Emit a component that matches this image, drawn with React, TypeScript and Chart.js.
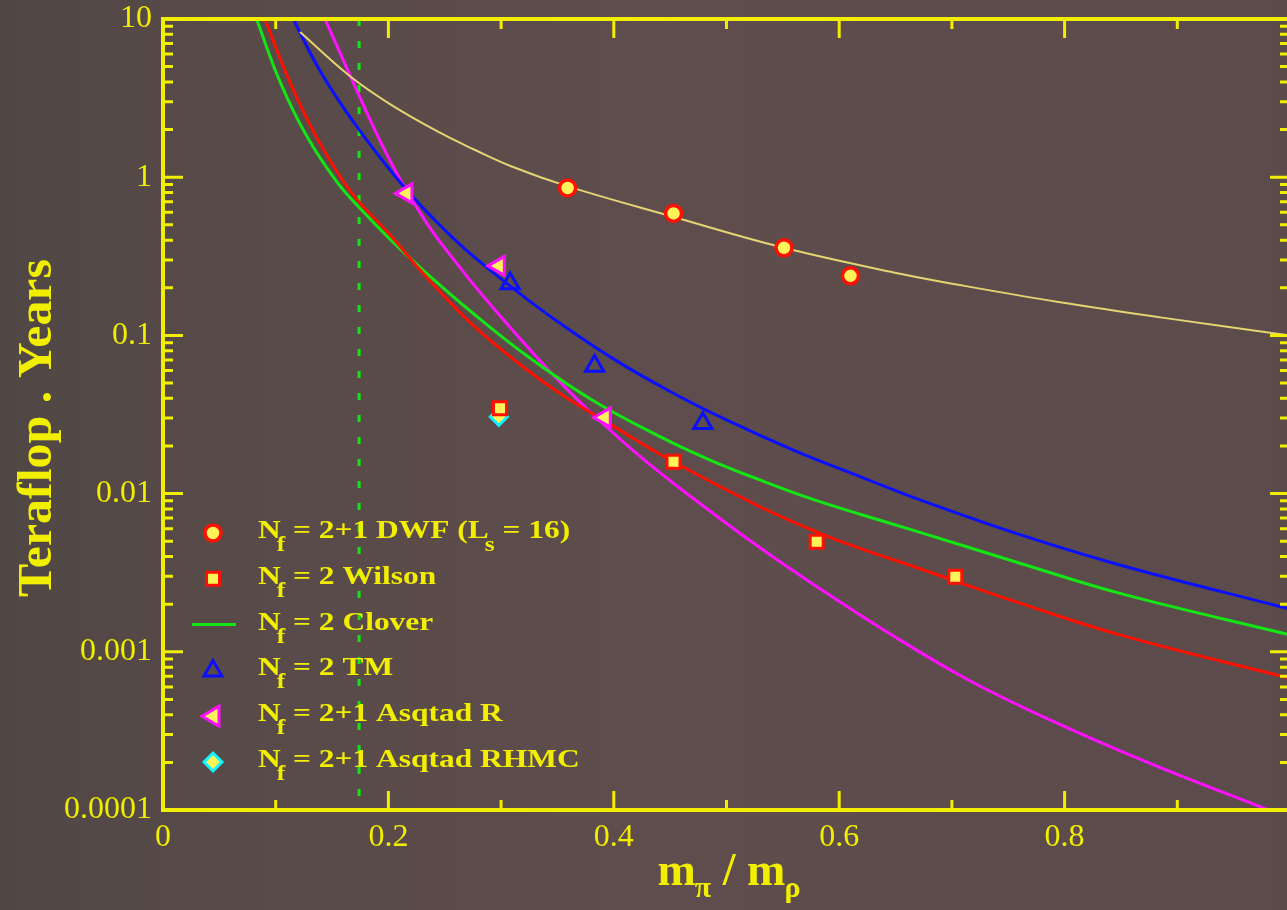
import React, { useEffect, useRef } from "react";
import { Chart, registerables } from "chart.js";

Chart.register(...registerables);

// ---------- data ----------
const xTickValues = [0, 0.2, 0.4, 0.6, 0.8];
const xTickLabels = ["0", "0.2", "0.4", "0.6", "0.8"];
const xMinorTicks = [0.1, 0.3, 0.5, 0.7, 0.9];
const yTickValues = [0.0001, 0.001, 0.01, 0.1, 1, 10];
const yTickLabels = ["0.0001", "0.001", "0.01", "0.1", "1", "10"];
const yMinorMultipliers = [2, 3, 4, 5, 6, 7, 8, 9];

const physicalPointX = 0.174; // dashed vertical marker

const dwfX = [0.359, 0.453, 0.551, 0.61];
const dwfY = [0.855, 0.59, 0.358, 0.238];
const wilsonX = [0.299, 0.453, 0.58, 0.703];
const wilsonY = [0.0346, 0.0159, 0.00497, 0.00298];
const tmX = [0.308, 0.383, 0.479];
const tmY = [0.213, 0.0641, 0.0278];
const asqtadX = [0.216, 0.298, 0.392];
const asqtadY = [0.79, 0.275, 0.0303];
const rhmcX = [0.298];
const rhmcY = [0.0306];

const dwfCurveX = [0.1216, 0.166, 0.2014, 0.2458, 0.2751, 0.31, 0.3585, 0.4525, 0.55, 0.654, 0.707, 0.796, 0.885, 1.0];
const dwfCurveY = [8.28, 4.345, 2.9, 1.91, 1.507, 1.164, 0.878, 0.562, 0.359, 0.245, 0.208, 0.162, 0.13, 0.1];

const wilsonCurveX = [0.0905, 0.1098, 0.1275, 0.1453, 0.1689, 0.2014, 0.2307, 0.2751, 0.3194, 0.3523, 0.3966, 0.4528, 0.5297, 0.583, 0.6185, 0.6717, 0.7604, 0.849, 1.0];
const wilsonCurveY = [10, 4.43, 2.36, 1.38, 0.77, 0.432, 0.247, 0.116, 0.0634, 0.043, 0.0275, 0.0159, 0.00826, 0.00561, 0.00451, 0.00335, 0.00203, 0.00128, 0.00068];

const cloverCurveX = [0.083, 0.1038, 0.1275, 0.1541, 0.1748, 0.2014, 0.2307, 0.2751, 0.3194, 0.3789, 0.441, 0.4854, 0.5297, 0.5741, 0.6185, 0.6717, 0.7604, 0.8492, 1.0];
const cloverCurveY = [10, 4.02, 1.82, 0.938, 0.636, 0.406, 0.259, 0.138, 0.0775, 0.0398, 0.0229, 0.0163, 0.0122, 0.00933, 0.00741, 0.00569, 0.00363, 0.00234, 0.00128];

const tmCurveX = [0.1156, 0.1364, 0.1571, 0.1807, 0.2043, 0.2251, 0.2458, 0.2695, 0.3138, 0.35, 0.4, 0.45, 0.5, 0.5593, 0.6185, 0.6717, 0.7604, 0.849, 1.0];
const tmCurveY = [10, 5.12, 2.96, 1.72, 1.047, 0.706, 0.497, 0.344, 0.1905, 0.1225, 0.0708, 0.0442, 0.0292, 0.01884, 0.0128, 0.00912, 0.0055, 0.00354, 0.00186];

const asqtadCurveX = [0.1437, 0.1571, 0.1719, 0.1866, 0.2014, 0.2162, 0.234, 0.2458, 0.2753, 0.305, 0.3345, 0.3523, 0.3818, 0.4262, 0.4706, 0.5149, 0.5593, 0.583, 0.6421, 0.7131, 0.787, 0.8758, 0.978, 1.0];
const asqtadCurveY = [10, 6.11, 3.54, 2.09, 1.276, 0.82, 0.512, 0.39, 0.211, 0.119, 0.0692, 0.0507, 0.0315, 0.0165, 0.00931, 0.00542, 0.00325, 0.0025, 0.00134, 0.000673, 0.000371, 0.000197, 0.000102, 0.0000891];

type Part = { t: string; sub?: boolean };
const legendTexts: Part[][] = [
  [{ t: "N" }, { t: "f", sub: true }, { t: " = 2+1 DWF (L" }, { t: "s", sub: true }, { t: " = 16)" }],
  [{ t: "N" }, { t: "f", sub: true }, { t: " = 2 Wilson" }],
  [{ t: "N" }, { t: "f", sub: true }, { t: " = 2 Clover" }],
  [{ t: "N" }, { t: "f", sub: true }, { t: " = 2 TM" }],
  [{ t: "N" }, { t: "f", sub: true }, { t: " = 2+1 Asqtad R" }],
  [{ t: "N" }, { t: "f", sub: true }, { t: " = 2+1 Asqtad RHMC" }],
];
const legendSymbols = ["circle", "square", "line", "triangle", "leftTriangle", "diamond"];
const yTitle = "Teraflop . Years";
const xTitleParts: Part[] = [{ t: "m" }, { t: "π", sub: true }, { t: " / m" }, { t: "ρ", sub: true }];

// ---------- styles / layout ----------
const AREA = { left: 163, top: 19, right: 1290, bottom: 810 };
const YELLOW = "#f2ee00";
const FILL = "#fff35a";
const RED = "#ff1000";
const GREEN = "#14e614";
const BLUE = "#0a10ff";
const MAGENTA = "#ff10ff";
const CYAN = "#10f4ff";
const TAN = "#e4d474";
const SERIF = "'Liberation Serif', 'DejaVu Serif', serif";

const pts = (xs: number[], ys: number[]) => xs.map((x, i) => ({ x, y: ys[i] }));

function drawRich(
  ctx: CanvasRenderingContext2D,
  x: number,
  y: number,
  parts: Part[],
  size: number,
  subSize: number,
  subDy: number,
  weight: string,
  sx: number,
  subShift: number,
  draw = true
) {
  let cx = x;
  for (const p of parts) {
    const sub = !!p.sub;
    ctx.font = `${weight} ${sub ? subSize : size}px ${SERIF}`;
    const px = sub ? cx - subShift : cx;
    if (draw) {
      ctx.save();
      ctx.translate(px, y + (sub ? subDy : 0));
      ctx.scale(sx, 1);
      ctx.fillText(p.t, 0, 0);
      ctx.restore();
    }
    cx = px + ctx.measureText(p.t).width * sx;
  }
  return cx - x;
}

function drawSymbol(ctx: CanvasRenderingContext2D, kind: string, x: number, y: number) {
  ctx.save();
  ctx.lineWidth = 3;
  ctx.beginPath();
  if (kind === "circle") {
    ctx.lineWidth = 3.5;
    ctx.arc(x, y, 8, 0, Math.PI * 2);
    ctx.fillStyle = FILL; ctx.strokeStyle = RED; ctx.fill(); ctx.stroke();
  } else if (kind === "square") {
    ctx.rect(x - 6.5, y - 6.5, 13, 13);
    ctx.fillStyle = FILL; ctx.strokeStyle = RED; ctx.fill(); ctx.stroke();
  } else if (kind === "line") {
    ctx.moveTo(x - 21, y); ctx.lineTo(x + 23, y);
    ctx.strokeStyle = GREEN; ctx.stroke();
  } else if (kind === "triangle") {
    ctx.moveTo(x, y - 10); ctx.lineTo(x + 9, y + 5.5); ctx.lineTo(x - 9, y + 5.5); ctx.closePath();
    ctx.strokeStyle = BLUE; ctx.stroke();
  } else if (kind === "leftTriangle") {
    ctx.moveTo(x - 11, y); ctx.lineTo(x + 6, y - 10); ctx.lineTo(x + 6, y + 10); ctx.closePath();
    ctx.fillStyle = FILL; ctx.strokeStyle = MAGENTA; ctx.fill(); ctx.stroke();
  } else if (kind === "diamond") {
    ctx.moveTo(x, y - 9); ctx.lineTo(x + 9, y); ctx.lineTo(x, y + 9); ctx.lineTo(x - 9, y); ctx.closePath();
    ctx.fillStyle = FILL; ctx.strokeStyle = CYAN; ctx.fill(); ctx.stroke();
  }
  ctx.restore();
}

const decorPlugin = {
  id: "decor",
  afterLayout(chart: any) {
    const ca = chart.chartArea;
    ca.left = AREA.left; ca.top = AREA.top; ca.right = AREA.right; ca.bottom = AREA.bottom;
    ca.width = AREA.right - AREA.left; ca.height = AREA.bottom - AREA.top;
    const xs = chart.scales.x;
    xs.left = AREA.left; xs.right = AREA.right; xs.width = AREA.right - AREA.left;
    xs.top = AREA.bottom; xs.bottom = chart.height; xs.height = chart.height - AREA.bottom;
    xs.configure();
    const ys = chart.scales.y;
    ys.left = 0; ys.right = AREA.left; ys.width = AREA.left;
    ys.top = AREA.top; ys.bottom = AREA.bottom; ys.height = AREA.bottom - AREA.top;
    ys.configure();
  },
  beforeDraw(chart: any) {
    const { ctx, width, height } = chart;
    ctx.save();
    const g = ctx.createLinearGradient(0, 0, width, 0);
    g.addColorStop(0, "#504745");
    g.addColorStop(0.15, "#574a48");
    g.addColorStop(0.5, "#5e4d4c");
    g.addColorStop(1, "#5b4b4a");
    ctx.fillStyle = g;
    ctx.fillRect(0, 0, width, height);
    ctx.restore();
  },
  afterDraw(chart: any) {
    const { ctx, chartArea: a } = chart;
    const xs = chart.scales.x;
    const ys = chart.scales.y;
    ctx.save();
    ctx.strokeStyle = YELLOW;
    ctx.lineWidth = 3;
    ctx.beginPath();
    xTickValues.forEach((v) => {
      const p = xs.getPixelForValue(v);
      ctx.moveTo(p, a.bottom); ctx.lineTo(p, a.bottom - 19);
      ctx.moveTo(p, a.top); ctx.lineTo(p, a.top + 19);
    });
    xMinorTicks.forEach((v) => {
      const p = xs.getPixelForValue(v);
      ctx.moveTo(p, a.bottom); ctx.lineTo(p, a.bottom - 10);
      ctx.moveTo(p, a.top); ctx.lineTo(p, a.top + 10);
    });
    yTickValues.forEach((v) => {
      const p = ys.getPixelForValue(v);
      ctx.moveTo(a.left, p); ctx.lineTo(a.left + 20, p);
      ctx.moveTo(a.right, p); ctx.lineTo(a.right - 20, p);
    });
    yTickValues.slice(0, -1).forEach((d) => {
      yMinorMultipliers.forEach((m) => {
        const p = ys.getPixelForValue(d * m);
        ctx.moveTo(a.left, p); ctx.lineTo(a.left + 10, p);
        ctx.moveTo(a.right, p); ctx.lineTo(a.right - 10, p);
      });
    });
    ctx.stroke();
    ctx.lineWidth = 4;
    ctx.strokeRect(a.left, a.top, a.right - a.left, a.bottom - a.top);

    // legend
    ctx.fillStyle = YELLOW;
    ctx.textBaseline = "alphabetic";
    ctx.textAlign = "left";
    legendTexts.forEach((parts, i) => {
      const rowY = 533 + i * 45.8;
      drawSymbol(ctx, legendSymbols[i], 213, rowY);
      ctx.fillStyle = YELLOW;
      drawRich(ctx, 258, rowY + 5, parts, 26, 21, 13, "bold", 1.21, 4);
    });

    // x title
    const w = drawRich(ctx, 0, 0, xTitleParts, 46, 30, 12, "bold", 1, 1, false);
    const cx = (a.left + 1287) / 2 + 4;
    drawRich(ctx, cx - w / 2, 885, xTitleParts, 46, 30, 12, "bold", 1, 1);

    // y title
    ctx.translate(39, 428);
    ctx.rotate(-Math.PI / 2);
    ctx.textAlign = "center";
    ctx.textBaseline = "middle";
    ctx.font = `bold 48px ${SERIF}`;
    ctx.scale(1.04, 1);
    ctx.fillText(yTitle, 0, 0);
    ctx.restore();
  },
};

export default function App() {
  const ref = useRef<HTMLCanvasElement>(null);
  useEffect(() => {
    const canvas = ref.current!;
    const curve = (label: string, xs: number[], ys: number[], color: string, width: number) => ({
      label,
      data: pts(xs, ys),
      showLine: true,
      borderColor: color,
      borderWidth: width,
      pointRadius: 0,
      tension: 0.4,
      fill: false,
      order: 2,
    });
    const chart = new Chart(canvas, {
      type: "scatter",
      data: {
        datasets: [
          {
            label: "DWF",
            data: pts(dwfX, dwfY),
            pointStyle: "circle",
            pointRadius: 8,
            pointBackgroundColor: FILL,
            pointBorderColor: RED,
            pointBorderWidth: 3.5,
            order: 0,
          },
          {
            label: "Wilson",
            data: pts(wilsonX, wilsonY),
            pointStyle: "rect",
            pointRadius: 9.2,
            pointBackgroundColor: FILL,
            pointBorderColor: RED,
            pointBorderWidth: 3,
            order: 0,
          },
          {
            label: "TM",
            data: pts(tmX, tmY),
            pointStyle: "triangle",
            pointRadius: 10.5,
            pointBackgroundColor: "rgba(0,0,0,0)",
            pointBorderColor: BLUE,
            pointBorderWidth: 3,
            order: 0,
          },
          {
            label: "Asqtad R",
            data: pts(asqtadX, asqtadY),
            pointStyle: "triangle",
            pointRotation: -90,
            pointRadius: 11,
            pointBackgroundColor: FILL,
            pointBorderColor: MAGENTA,
            pointBorderWidth: 3,
            order: 0,
          },
          {
            label: "Asqtad RHMC",
            data: pts(rhmcX, rhmcY),
            pointStyle: "rectRot",
            pointRadius: 8.5,
            pointBackgroundColor: FILL,
            pointBorderColor: CYAN,
            pointBorderWidth: 3,
            order: 0,
          },
          curve("DWF fit", dwfCurveX, dwfCurveY, TAN, 2),
          curve("Wilson fit", wilsonCurveX, wilsonCurveY, RED, 3),
          curve("Clover", cloverCurveX, cloverCurveY, GREEN, 3),
          curve("TM fit", tmCurveX, tmCurveY, BLUE, 3),
          curve("Asqtad fit", asqtadCurveX, asqtadCurveY, MAGENTA, 3),
          {
            label: "physical",
            data: [
              { x: physicalPointX, y: 10 },
              { x: physicalPointX, y: 0.0001 },
            ],
            showLine: true,
            borderColor: GREEN,
            borderWidth: 3,
            borderDash: [7, 15],
            pointRadius: 0,
            order: 3,
          },
        ],
      },
      options: {
        responsive: false,
        animation: false,
        events: [],
        layout: { padding: { left: 0, top: 19, right: 5, bottom: 0 } },
        plugins: { legend: { display: false }, tooltip: { enabled: false } },
        scales: {
          x: {
            type: "linear",
            min: 0,
            max: 1,
            grid: { display: false, drawTicks: false },
            border: { display: false },
            afterBuildTicks: (s: any) => {
              s.ticks = xTickValues.map((v) => ({ value: v }));
            },
            afterFit: (s: any) => {
              s.height = 100;
            },
            ticks: {
              autoSkip: false,
              maxRotation: 0,
              padding: 8,
              color: YELLOW,
              font: { family: SERIF, size: 32 },
              callback: (v: any) => {
                const i = xTickValues.findIndex((t) => Math.abs(t - Number(v)) < 1e-9);
                return i >= 0 ? xTickLabels[i] : "";
              },
            },
          },
          y: {
            type: "logarithmic",
            min: 0.0001,
            max: 10,
            grid: { display: false, drawTicks: false },
            border: { display: false },
            afterBuildTicks: (s: any) => {
              s.ticks = yTickValues.map((v) => ({ value: v }));
            },
            afterFit: (s: any) => {
              s.width = 163;
            },
            ticks: {
              autoSkip: false,
              padding: 11,
              color: YELLOW,
              font: { family: SERIF, size: 32 },
              callback: (v: any) => {
                const i = yTickValues.findIndex((t) => Math.abs(Math.log10(t) - Math.log10(Number(v))) < 1e-6);
                return i >= 0 ? yTickLabels[i] : "";
              },
            },
          },
        },
      },
      plugins: [decorPlugin],
    });
    return () => chart.destroy();
  }, []);

  return (
    <div style={{ position: "fixed", left: 0, top: 0, width: 1287, height: 910, overflow: "hidden", background: "#5a4b4a" }}>
      <canvas ref={ref} width={1295} height={910} style={{ display: "block", width: 1295, height: 910 }} />
    </div>
  );
}
